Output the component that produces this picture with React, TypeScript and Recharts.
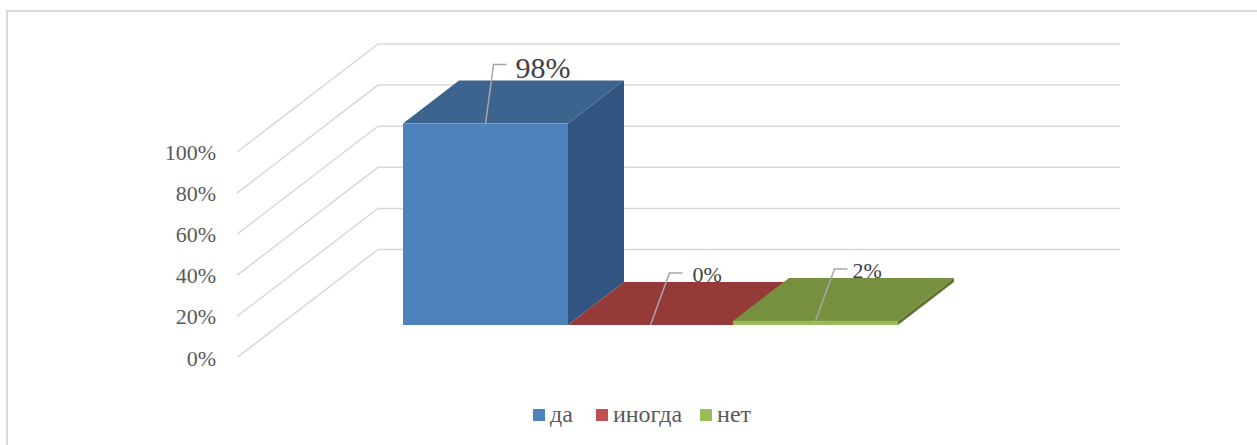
import { BarChart, Bar, XAxis, YAxis, Legend, LabelList, CartesianGrid } from 'recharts';

const categories = ['да', 'иногда', 'нет'];
const shares = [98, 0, 2];
const yTicks = [0, 20, 40, 60, 80, 100];

const frontColors = ['#4F81BD', '#953735', '#9BBB59'];
const topColors = ['#3D638F', '#953A38', '#769040'];
const sideColors = ['#325480', '#7A2E2C', '#5F7530'];
const legendColors = ['#4F81BD', '#C0504D', '#9BBB59'];
const legendGaps = [23, 18, 0];
const leaderRise = [59, 52, 52];
const labelSizes = [30, 22, 22];
const labelGaps = [9, 10, 5];

const FONT = '"Liberation Serif", "Times New Roman", serif';
const TEXT = '#595959';
const GRID = '#D9D9D9';

// projection of the chart depth, front plane -> back wall
const WALL_DX = 141;
const WALL_DY = 108;
// bars stand this far behind the front edge of the floor
const BAR_DX = 42;
const BAR_DY = 32.5;
// depth of the bar itself
const DEPTH_DX = 56;
const DEPTH_DY = 43;

const chartData = categories.map((name, i) => ({ name, value: shares[i] }));

function WallLine({ x1, y1, x2 }: any) {
  return (
    <polyline
      points={`${x1},${y1} ${x1 + WALL_DX},${y1 - WALL_DY} ${x2 + WALL_DX},${y1 - WALL_DY}`}
      fill="none"
      stroke={GRID}
      strokeWidth={1.5}
    />
  );
}

function AxisTick({ x, y, payload }: any) {
  return (
    <text x={x - 21} y={y + 8} textAnchor="end" fontFamily={FONT} fontSize={22} fill={TEXT}>
      {payload.value}%
    </text>
  );
}

function Box3D({ x, y, width, height, index }: any) {
  const l = x + BAR_DX;
  const r = l + width;
  const t = y - BAR_DY;
  const b = t + height;
  return (
    <g>
      <polygon
        points={`${r},${t} ${r + DEPTH_DX},${t - DEPTH_DY} ${r + DEPTH_DX},${b - DEPTH_DY} ${r},${b}`}
        fill={sideColors[index]}
      />
      <polygon
        points={`${l},${t} ${l + DEPTH_DX},${t - DEPTH_DY} ${r + DEPTH_DX},${t - DEPTH_DY} ${r},${t}`}
        fill={topColors[index]}
      />
      {height > 0 && <rect x={l} y={t} width={width} height={height} fill={frontColors[index]} />}
    </g>
  );
}

function Leader({ x, y, width, value, index }: any) {
  const sx = x + BAR_DX + width / 2;
  const sy = y - BAR_DY;
  const rise = leaderRise[index];
  const kx = sx + (index === 0 ? 8 : 19);
  const ex = kx + 13;
  return (
    <g>
      <polyline
        points={`${sx},${sy} ${kx},${sy - rise} ${ex},${sy - rise}`}
        fill="none"
        stroke="#A6A6A6"
        strokeWidth={1.5}
      />
      <text
        x={ex + labelGaps[index]}
        y={sy - rise + (index === 0 ? 13 : 9)}
        fontFamily={FONT}
        fontSize={labelSizes[index]}
        fill="#404040"
      >
        {value}%
      </text>
    </g>
  );
}

function LegendRow() {
  return (
    <div style={{ display: 'flex', alignItems: 'center', fontFamily: FONT, fontSize: 24, color: TEXT }}>
      {categories.map((name, i) => (
        <div key={name} style={{ display: 'flex', alignItems: 'center', marginRight: legendGaps[i] }}>
          <span style={{ width: 12, height: 12, background: legendColors[i], marginRight: 5 }} />
          <span>{name}</span>
        </div>
      ))}
    </div>
  );
}

export default function App() {
  return (
    <div style={{ position: 'absolute', left: 0, top: 0, width: 1257, height: 445, overflow: 'hidden', background: '#fff' }}>
      <div
        style={{
          position: 'absolute',
          left: 6,
          top: 10,
          width: 1260,
          height: 450,
          border: `2px solid ${GRID}`,
          boxSizing: 'border-box',
        }}
      />
      <BarChart
        width={1257}
        height={445}
        data={chartData}
        barCategoryGap={0}
        margin={{ top: 152, right: 278, bottom: 87.5, left: 0 }}
        style={{ position: 'absolute', left: 0, top: 0 }}
      >
        <CartesianGrid vertical={false} horizontal={<WallLine />} />
        <XAxis dataKey="name" hide padding={{ left: 124, right: 123 }} />
        <YAxis
          width={237}
          domain={[0, 100]}
          ticks={yTicks}
          axisLine={false}
          tickLine={false}
          tickSize={0}
          tickMargin={0}
          tick={<AxisTick />}
          interval={0}
        />
        <Legend
          content={<LegendRow />}
          layout="horizontal"
          verticalAlign="middle"
          wrapperStyle={{ position: 'absolute', left: 533, top: 401, width: 320 }}
        />
        <Bar dataKey="value" shape={<Box3D />} isAnimationActive={false}>
          <LabelList dataKey="value" content={<Leader />} />
        </Bar>
      </BarChart>
    </div>
  );
}
